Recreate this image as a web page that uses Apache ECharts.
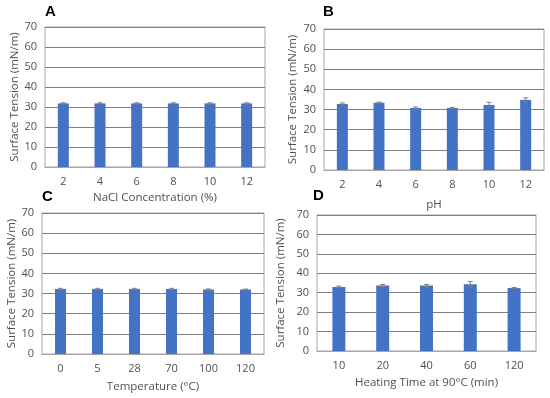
<!DOCTYPE html>
<html><head><meta charset="utf-8">
<script src="https://cdn.jsdelivr.net/npm/echarts@6/dist/echarts.min.js"></script>
<style>html,body{margin:0;padding:0;background:#fff}#c{width:550px;height:398px}</style>
</head><body><div id="c"></div>
<script>
const catA = ['2','4','6','8','10','12'];
const valA = [31.8,31.8,31.8,31.8,31.8,31.8];
const errA = [0.3,0.3,0.3,0.3,0.3,0.3];
const catB = ['2','4','6','8','10','12'];
const valB = [32.8,33.4,30.8,30.8,32.3,34.8];
const errB = [0.5,0.3,0.5,0.3,1.3,1.0];
const catC = ['0','5','28','70','100','120'];
const valC = [32.3,32.3,32.3,32.3,32.0,32.0];
const errC = [0.3,0.3,0.3,0.3,0.3,0.2];
const catD = ['10','20','40','60','120'];
const valD = [33.0,33.7,33.7,34.4,32.4];
const errD = [0.4,0.5,0.6,1.3,0.3];
const yTicks = [0,10,20,30,40,50,60,70];

const panels = [
  {cat:catA,val:valA,err:errA,name:'NaCl Concentration (%)',grid:{left:45,top:27,width:220,height:140},gap:25,ygap:24,bw:11,label:'A',lx:50,ly:13},
  {cat:catB,val:valB,err:errB,name:'pH',grid:{left:324,top:29,width:220,height:141},gap:29,ygap:25,bw:11,label:'B',lx:328,ly:13},
  {cat:catC,val:valC,err:errC,name:'Temperature (°C)',grid:{left:42,top:213,width:222,height:141},gap:27,ygap:22,bw:11,label:'C',lx:47,ly:198},
  {cat:catD,val:valD,err:errD,name:'Heating Time at 90°C (min)',grid:{left:317,top:215,width:219,height:136},gap:26,ygap:30,bw:13,label:'D',lx:318,ly:197}
];
const font = "'Open Sans', sans-serif";
const txt = '#505050';
const option = {animation:false, grid:[], xAxis:[], yAxis:[], series:[], graphic:[]};
panels.forEach((p,i)=>{
  option.grid.push(Object.assign({show:true,borderColor:'#a6a6a6',borderWidth:1,backgroundColor:'#fff'},p.grid));
  option.xAxis.push({type:'category',gridIndex:i,data:p.cat,name:p.name,nameLocation:'middle',nameGap:p.gap,
    nameTextStyle:{color:txt,fontSize:11.5,fontFamily:font},
    axisTick:{show:false},axisLine:{lineStyle:{color:'#a6a6a6'}},
    axisLabel:{color:txt,fontSize:11,fontFamily:font,margin:9}});
  option.yAxis.push({type:'value',gridIndex:i,min:yTicks[0],max:yTicks[yTicks.length-1],interval:10,
    name:'Surface Tension (mN/m)',nameLocation:'middle',nameGap:p.ygap,
    nameTextStyle:{color:txt,fontSize:11.5,fontFamily:font},
    axisLine:{show:false},axisTick:{show:false},
    axisLabel:{color:txt,fontSize:11,fontFamily:font,margin:8},
    splitLine:{lineStyle:{color:'#808080',width:1}}});
  option.series.push({type:'bar',xAxisIndex:i,yAxisIndex:i,data:p.val,barWidth:p.bw,itemStyle:{color:'#4472c4'}});
  option.series.push({type:'custom',xAxisIndex:i,yAxisIndex:i,z:5,
    data:p.val.map((v,j)=>[j,v-p.err[j],v+p.err[j]]),
    renderItem:(params,api)=>{
      const lo=api.coord([api.value(0),api.value(1)]);
      const hi=api.coord([api.value(0),api.value(2)]);
      const x=lo[0], w=2.5;
      const st={stroke:'#7f7f7f',lineWidth:1};
      return {type:'group',children:[
        {type:'line',shape:{x1:x,y1:lo[1],x2:x,y2:hi[1]},style:st},
        {type:'line',shape:{x1:x-w,y1:hi[1],x2:x+w,y2:hi[1]},style:st},
        {type:'line',shape:{x1:x-w,y1:lo[1],x2:x+w,y2:lo[1]},style:st}
      ]};
    }});
  option.graphic.push({type:'text',left:p.lx-5,top:p.ly-9,style:{text:p.label,fontSize:15,fontWeight:'bold',fill:'#000',fontFamily:"'Liberation Sans', Arial, sans-serif"}});
});
echarts.init(document.getElementById('c')).setOption(option);
</script></body></html>
